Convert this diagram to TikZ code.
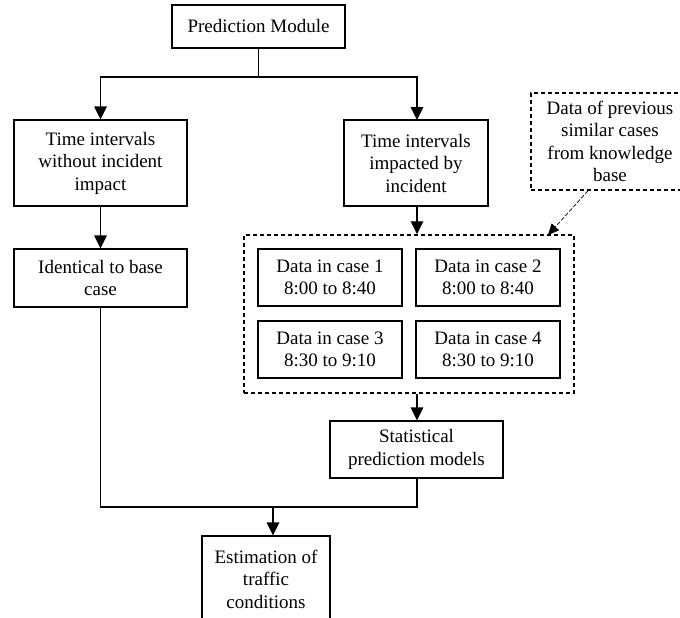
\documentclass[tikz,border=0pt]{standalone}
\usepackage{fontspec}
\setmainfont{Liberation Serif}
\usetikzlibrary{arrows.meta}
\begin{document}
\begin{tikzpicture}[x=1pt,y=-1pt,
  box/.style={draw=black, line width=1.1pt, align=center, inner sep=0pt,
    font=\fontsize{19}{22.5}\selectfont},
  grpbox/.style={draw=black, line width=1.5pt, dash pattern=on 4pt off 3pt, inner sep=0pt},
  flow/.style={draw=black, line width=1.1pt, -{Triangle[width=12.5pt,length=13pt]}},
  link/.style={draw=black, line width=1.1pt},
  hint/.style={draw=black, line width=0.7pt, dash pattern=on 4pt off 2pt, -{Triangle[width=10pt,length=11pt]}}]
\useasboundingbox (0,0) rectangle (680,618);
\clip (0,0) rectangle (680,618);

% main boxes
\node[box, minimum width=173pt, minimum height=43pt] (pm) at (258.5,26.5) {Prediction Module};
\node[box, minimum width=173pt, minimum height=86pt] (nowi) at (100.5,163) {Time intervals\\without incident\\impact};
\node[box, minimum width=144pt, minimum height=86pt] (imp) at (416,163) {Time intervals\\impacted by\\incident};
\node[box, minimum width=173pt, minimum height=58pt] (ident) at (100.5,278) {Identical to base\\case};

% group of historical cases
\node[grpbox, minimum width=330pt, minimum height=158pt] (grp) at (409,314) {};
\node[box, minimum width=144pt, minimum height=57pt] (c1) at (330,277.5) {Data in case 1\\8:00 to 8:40};
\node[box, minimum width=144pt, minimum height=57pt] (c2) at (488,277.5) {Data in case 2\\8:00 to 8:40};
\node[box, minimum width=144pt, minimum height=57pt] (c3) at (330,349.5) {Data in case 3\\8:30 to 9:10};
\node[box, minimum width=144pt, minimum height=57pt] (c4) at (488,349.5) {Data in case 4\\8:30 to 9:10};

% knowledge base note
\node[box, grpbox, minimum width=158pt, minimum height=97pt] (kb) at (610,141.5) {Data of previous\\similar cases\\from knowledge\\base};

\node[box, minimum width=173pt, minimum height=57pt] (stat) at (416.5,449.5) {Statistical\\prediction models};
\node[box, minimum width=128pt, minimum height=86pt] (est) at (266,579) {Estimation of\\traffic\\conditions};

% junction points
\coordinate (split) at (258.5,77);
\coordinate (joinL) at (100.5,507);
\coordinate (joinR) at (417,507);
\coordinate (joinM) at (273,507);

% connectors
\draw[link] (pm.south) -- (split);
\draw[flow] (split) -| (nowi.north);
\draw[flow] (split) -| (417,120);
\draw[flow] (nowi.south) -- (ident.north);
\draw[flow] (imp.south -| 417,0) -- (grp.north -| 417,0);
\draw[hint] (kb.south -| 588,0) -- (548,235);
\draw[flow] (grp.south -| 417,0) -- (stat.north -| 417,0);
\draw[link] (ident.south) -- (joinL) -- (joinR) -- (stat.south -| joinR);
\draw[flow] (joinM) -- (est.north -| joinM);
\end{tikzpicture}
\end{document}
